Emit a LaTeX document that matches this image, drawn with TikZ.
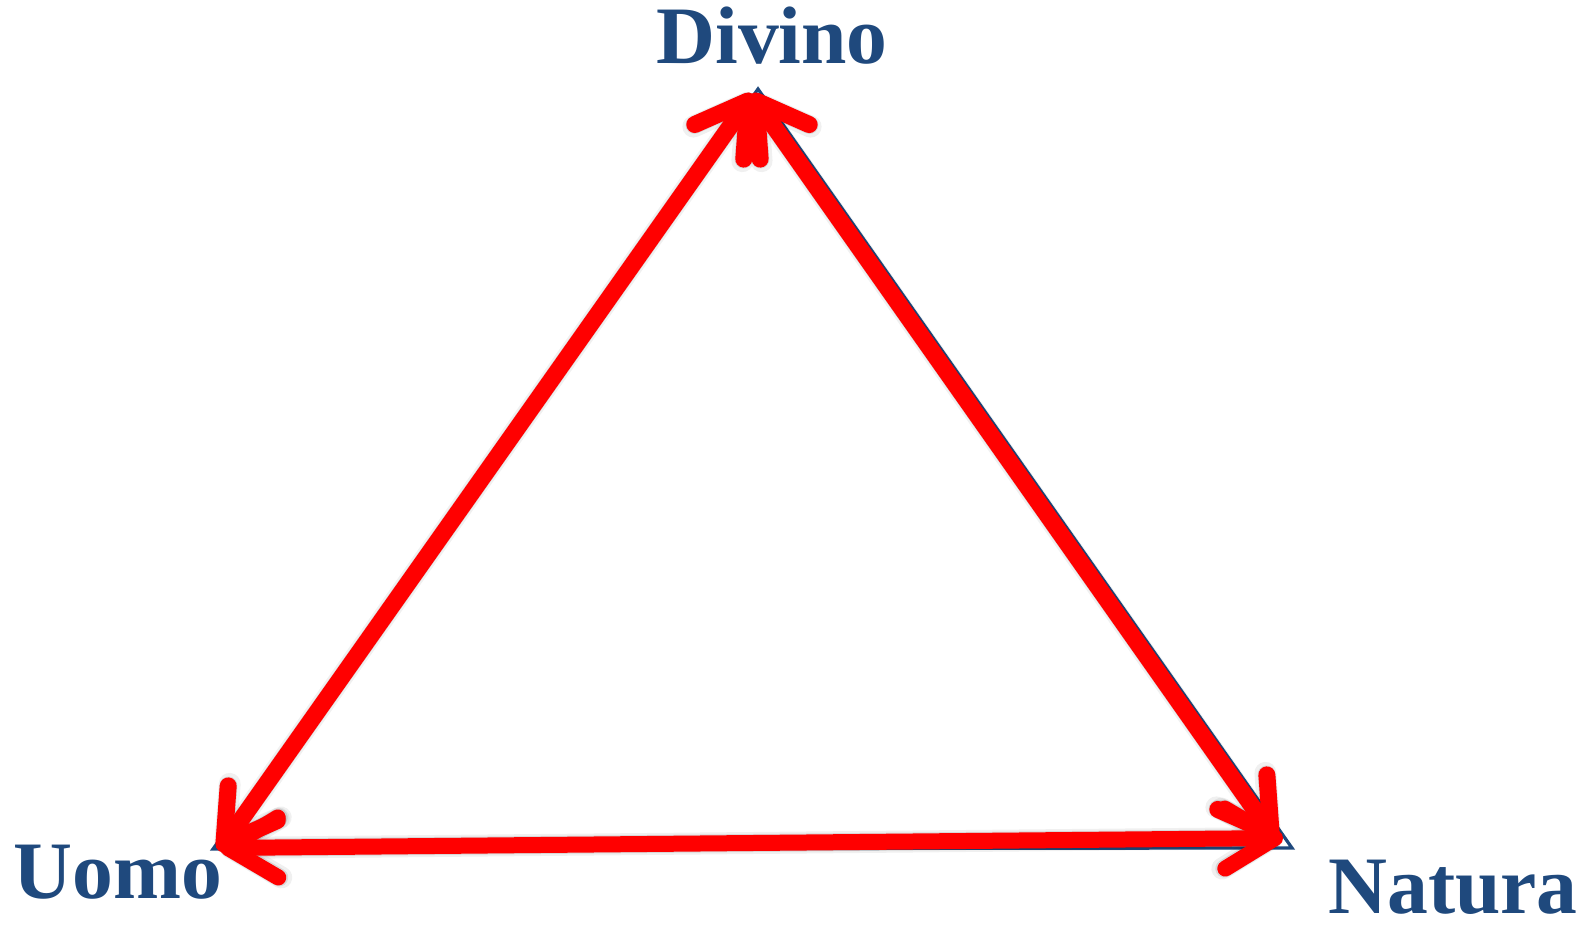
\documentclass[tikz,border=0pt]{standalone}
\usepackage{fontspec}
\setmainfont{Liberation Serif}
\usetikzlibrary{arrows.meta}
\definecolor{dblue}{RGB}{31,73,125}
\definecolor{ared}{RGB}{255,0,0}
\tikzset{
  lbl/.style={anchor=base west, inner sep=0pt, text depth=0pt, text=dblue, font=\fontsize{40.8}{48}\selectfont\bfseries},
  barb/.tip={Straight Barb[length=25pt, width=30pt, line cap=round, line join=round]},
  redarrow/.style={draw=ared, line width=8.5pt, line cap=round, barb-barb},
  shadowa/.style={draw=black, opacity=0.06, line width=11pt, line cap=round, barb-barb, shift={(1,7)}},
  shadowb/.style={draw=black, opacity=0.10, line width=9pt, line cap=round, barb-barb, shift={(1,4)}},
  frame/.style={draw=dblue, line width=1.6pt, line join=miter}
}
\begin{document}
\begin{tikzpicture}[x=0.5pt,y=-0.5pt]
\useasboundingbox (0,0) rectangle (1595,928);
% labels
\node[lbl] (divino) at (656,63) {Divino};
\node[lbl] (uomo) at (13,898) {Uomo};
\node[lbl] (natura) at (1328,913) {Natura};
% underlying triangle corners
\coordinate (T) at (758,89);
\coordinate (BL) at (213,849);
\coordinate (BR) at (1292,848);
\draw[frame] (T) -- (BR) -- (BL) -- cycle;
% arrow end points
\coordinate (Dl) at (753,94);
\coordinate (Dr) at (751,94);
\coordinate (Ua) at (219,851);
\coordinate (Ub) at (220,848);
\coordinate (Na) at (1276,840);
\coordinate (Nb) at (1283,838);
\foreach \s in {shadowa,shadowb}{
  \draw[\s] (Dl) -- (Ua);
  \draw[\s] (Dr) -- (Na);
  \draw[\s] (Ub) -- (Nb);
}
\draw[redarrow] (Dl) -- (Ua);
\draw[redarrow] (Dr) -- (Na);
\draw[redarrow, line width=8pt] (Ub) -- (Nb);
\end{tikzpicture}
\end{document}
